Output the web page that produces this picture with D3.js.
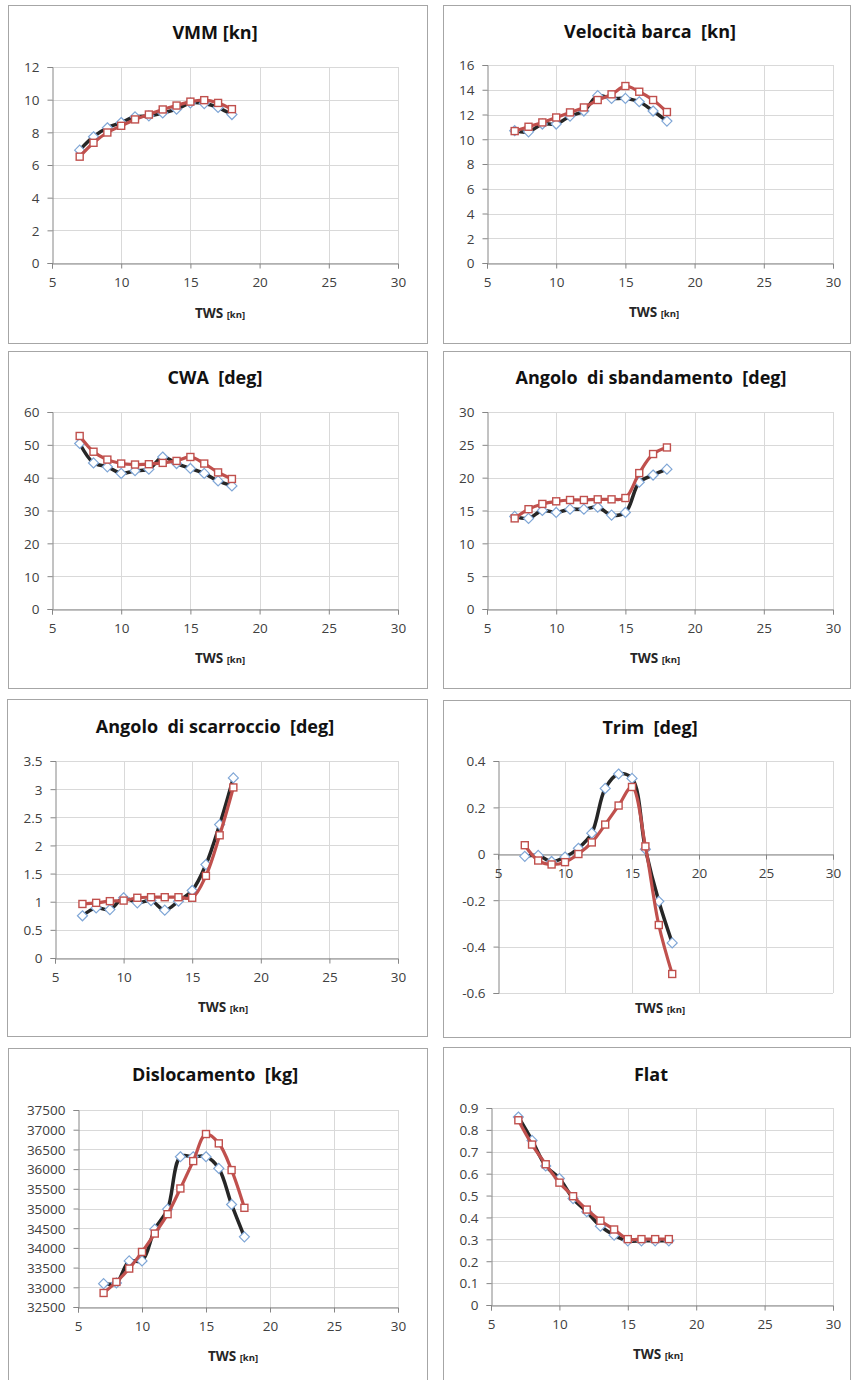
<!DOCTYPE html>
<html>
<head>
<meta charset="utf-8">
<script src="https://cdn.jsdelivr.net/npm/d3@7"></script>
<style>
  body { margin: 0; background: #fff; }
  text { font-family: "Open Sans", "Liberation Sans", sans-serif; }
</style>
</head>
<body>
<div id="vis-container"></div>
<script>
// TWS values (x)
let tws = [7, 8, 9, 10, 11, 12, 13, 14, 15, 16, 17, 18];

// series A = black line / blue diamonds, series B = red line / red squares
let vmmA = [6.91, 7.73, 8.28, 8.60, 8.95, 9.01, 9.19, 9.42, 9.80, 9.76, 9.52, 9.09];
let vmmB = [6.51, 7.36, 7.99, 8.40, 8.79, 9.09, 9.40, 9.64, 9.88, 9.97, 9.80, 9.42];

let speedA = [10.69, 10.60, 11.23, 11.23, 11.87, 12.28, 13.52, 13.30, 13.30, 13.03, 12.28, 11.47];
let speedB = [10.66, 11.01, 11.36, 11.76, 12.17, 12.57, 13.17, 13.63, 14.30, 13.84, 13.17, 12.20];

let cwaA = [50.4, 44.5, 43.3, 41.3, 42.1, 42.6, 46.3, 44.3, 42.8, 41.3, 39.0, 37.5];
let cwaB = [52.7, 47.9, 45.5, 44.3, 44.0, 44.1, 44.5, 45.1, 46.3, 44.3, 41.6, 39.6];

let heelA = [14.1, 13.8, 15.0, 14.7, 15.2, 15.2, 15.5, 14.3, 14.7, 19.3, 20.4, 21.3];
let heelB = [13.8, 15.2, 16.0, 16.4, 16.6, 16.6, 16.7, 16.7, 16.9, 20.7, 23.6, 24.6];

let leewayA = [0.75, 0.89, 0.86, 1.07, 0.98, 1.02, 0.85, 1.01, 1.20, 1.66, 2.37, 3.20];
let leewayB = [0.96, 0.98, 1.01, 1.02, 1.07, 1.08, 1.08, 1.08, 1.07, 1.46, 2.18, 3.03];

let trimA = [-0.011, -0.007, -0.033, -0.014, 0.024, 0.089, 0.282, 0.344, 0.325, 0.020, -0.205, -0.384];
let trimB = [0.037, -0.029, -0.046, -0.036, -0.001, 0.049, 0.126, 0.208, 0.288, 0.032, -0.307, -0.518];

let dispA = [33093, 33110, 33670, 33670, 34475, 34983, 36314, 36314, 36314, 36017, 35102, 34280];
let dispB = [32856, 33136, 33475, 33898, 34364, 34856, 35508, 36203, 36890, 36653, 35975, 35017];

let flatA = [0.859, 0.752, 0.635, 0.578, 0.486, 0.426, 0.360, 0.319, 0.293, 0.293, 0.293, 0.293];
let flatB = [0.844, 0.733, 0.643, 0.559, 0.497, 0.436, 0.385, 0.345, 0.301, 0.301, 0.301, 0.301];

let titles = ["VMM [kn]", "Velocità barca  [kn]", "CWA  [deg]", "Angolo  di sbandamento  [deg]",
  "Angolo  di scarroccio  [deg]", "Trim  [deg]", "Dislocamento  [kg]", "Flat"];
let yDomains = [[0, 12], [0, 16], [0, 60], [0, 30], [0, 3.5], [-0.6, 0.4], [32500, 37500], [0, 0.9]];
let yTicks = [
  [0, 2, 4, 6, 8, 10, 12],
  [0, 2, 4, 6, 8, 10, 12, 14, 16],
  [0, 10, 20, 30, 40, 50, 60],
  [0, 5, 10, 15, 20, 25, 30],
  [0, 0.5, 1, 1.5, 2, 2.5, 3, 3.5],
  [-0.6, -0.4, -0.2, 0, 0.2, 0.4],
  [32500, 33000, 33500, 34000, 34500, 35000, 35500, 36000, 36500, 37000, 37500],
  [0, 0.1, 0.2, 0.3, 0.4, 0.5, 0.6, 0.7, 0.8, 0.9]
];
let xTicks = [5, 10, 15, 20, 25, 30];
let seriesA = [vmmA, speedA, cwaA, heelA, leewayA, trimA, dispA, flatA];
let seriesB = [vmmB, speedB, cwaB, heelB, leewayB, trimB, dispB, flatB];

// layout of each panel: box, plot area, label positions
let layout = [
  {box: [8, 5, 419, 338],     px: [52, 398],  py: [67, 263],    ty: 33,   tx: 215, lx: 220, ly: 312},
  {box: [443, 5, 407, 338],   px: [487, 833], py: [65, 263],    ty: 32,   tx: 650, lx: 654, ly: 311},
  {box: [8, 351, 419, 337],   px: [52, 398],  py: [412, 609],   ty: 378,  tx: 215, lx: 220, ly: 657},
  {box: [443, 351, 407, 337], px: [487, 833], py: [412, 609],   ty: 378,  tx: 651, lx: 655, ly: 657},
  {box: [7, 699, 420, 337],   px: [55, 398],  py: [761, 958],   ty: 727,  tx: 215, lx: 223, ly: 1006},
  {box: [443, 700, 407, 337], px: [498, 833], py: [761, 993],   ty: 728,  tx: 650, lx: 660, ly: 1007},
  {box: [8, 1048, 419, 345],  px: [78, 398],  py: [1110, 1307], ty: 1075, tx: 215, lx: 233, ly: 1355},
  {box: [443, 1047, 407, 345],px: [491, 833], py: [1108, 1305], ty: 1075, tx: 651, lx: 658, ly: 1353}
];

let w = 851;
let h = 1380;

let svg = d3.select("#vis-container")
  .append("svg")
  .attr("width", w)
  .attr("height", h);

let gridColor = "#d9d9d9";
let axisColor = "#868686";
let labelColor = "#404040";

for (let i = 0; i < 8; i++) {
  let L = layout[i];
  let g = svg.append("g");

  g.append("rect")
    .attr("x", L.box[0] + 0.5).attr("y", L.box[1] + 0.5)
    .attr("width", L.box[2]).attr("height", L.box[3])
    .attr("fill", "#fff").attr("stroke", "#a6a6a6").attr("stroke-width", 1);

  let x = d3.scaleLinear().domain([5, 30]).range(L.px);
  let y = d3.scaleLinear().domain(yDomains[i]).range([L.py[1], L.py[0]]);

  // gridlines
  g.selectAll(".hg").data(yTicks[i]).enter().append("line")
    .attr("x1", L.px[0]).attr("x2", L.px[1])
    .attr("y1", d => Math.round(y(d)) + 0.5).attr("y2", d => Math.round(y(d)) + 0.5)
    .attr("stroke", gridColor);
  g.selectAll(".vg").data(xTicks.slice(1)).enter().append("line")
    .attr("x1", d => Math.round(x(d)) + 0.5).attr("x2", d => Math.round(x(d)) + 0.5)
    .attr("y1", L.py[0]).attr("y2", L.py[1])
    .attr("stroke", gridColor);

  // axes
  let y0 = yDomains[i][0] < 0 ? Math.round(y(0)) : Math.round(L.py[1]);
  let yAxis = d3.axisLeft(y).tickValues(yTicks[i]).tickSize(5).tickPadding(8)
    .tickFormat(d => String(+d.toFixed(2)));
  let ya = g.append("g").attr("transform", `translate(${Math.round(L.px[0]) + 0.5},0)`).call(yAxis);
  let xAxis = d3.axisBottom(x).tickValues(xTicks).tickSize(5).tickPadding(9);
  let xa = g.append("g").attr("transform", `translate(0,${y0 + 0.5})`).call(xAxis);

  [ya, xa].forEach(a => {
    a.select(".domain").attr("stroke", axisColor);
    a.selectAll(".tick line").attr("stroke", axisColor);
    a.selectAll(".tick text").attr("fill", labelColor)
      .style("font-size", "13.5px").style("font-family", "'Open Sans', sans-serif");
  });
  ya.selectAll(".tick text").attr("dy", "0.36em");

  // lines
  let line = d3.line()
    .x(d => x(d[0])).y(d => y(d[1]))
    .curve(d3.curveCatmullRom.alpha(0.5));

  let dA = tws.map((t, k) => [t, seriesA[i][k]]);
  let dB = tws.map((t, k) => [t, seriesB[i][k]]);

  g.append("path").datum(dA).attr("d", line)
    .attr("fill", "none").attr("stroke", "#262626").attr("stroke-width", 3.5);
  g.selectAll(".mA").data(dA).enter().append("path")
    .attr("transform", d => `translate(${x(d[0])},${y(d[1])})`)
    .attr("d", "M0,-5L5,0L0,5L-5,0Z")
    .attr("fill", "#fff").attr("stroke", "#7fa6d6").attr("stroke-width", 1.2);

  g.append("path").datum(dB).attr("d", line)
    .attr("fill", "none").attr("stroke", "#c0504d").attr("stroke-width", 3.2);
  g.selectAll(".mB").data(dB).enter().append("rect")
    .attr("x", d => x(d[0]) - 3.5).attr("y", d => y(d[1]) - 3.5)
    .attr("width", 7).attr("height", 7)
    .attr("fill", "#fff").attr("stroke", "#c0504d").attr("stroke-width", 1.4);

  // title
  g.append("text")
    .attr("x", L.tx).attr("y", L.ty).attr("dy", "0.35em")
    .attr("text-anchor", "middle")
    .attr("fill", "#111")
    .style("font-size", "18px").style("font-weight", "bold")
    .style("white-space", "pre")
    .text(titles[i]);

  // x label
  let lab = g.append("text")
    .attr("x", L.lx).attr("y", L.ly).attr("dy", "0.35em")
    .attr("text-anchor", "middle").attr("fill", "#262626")
    .style("font-weight", "bold");
  lab.append("tspan").style("font-size", "13.5px").text("TWS ");
  lab.append("tspan").style("font-size", "9.5px").text("[kn]");
}
</script>
</body>
</html>
